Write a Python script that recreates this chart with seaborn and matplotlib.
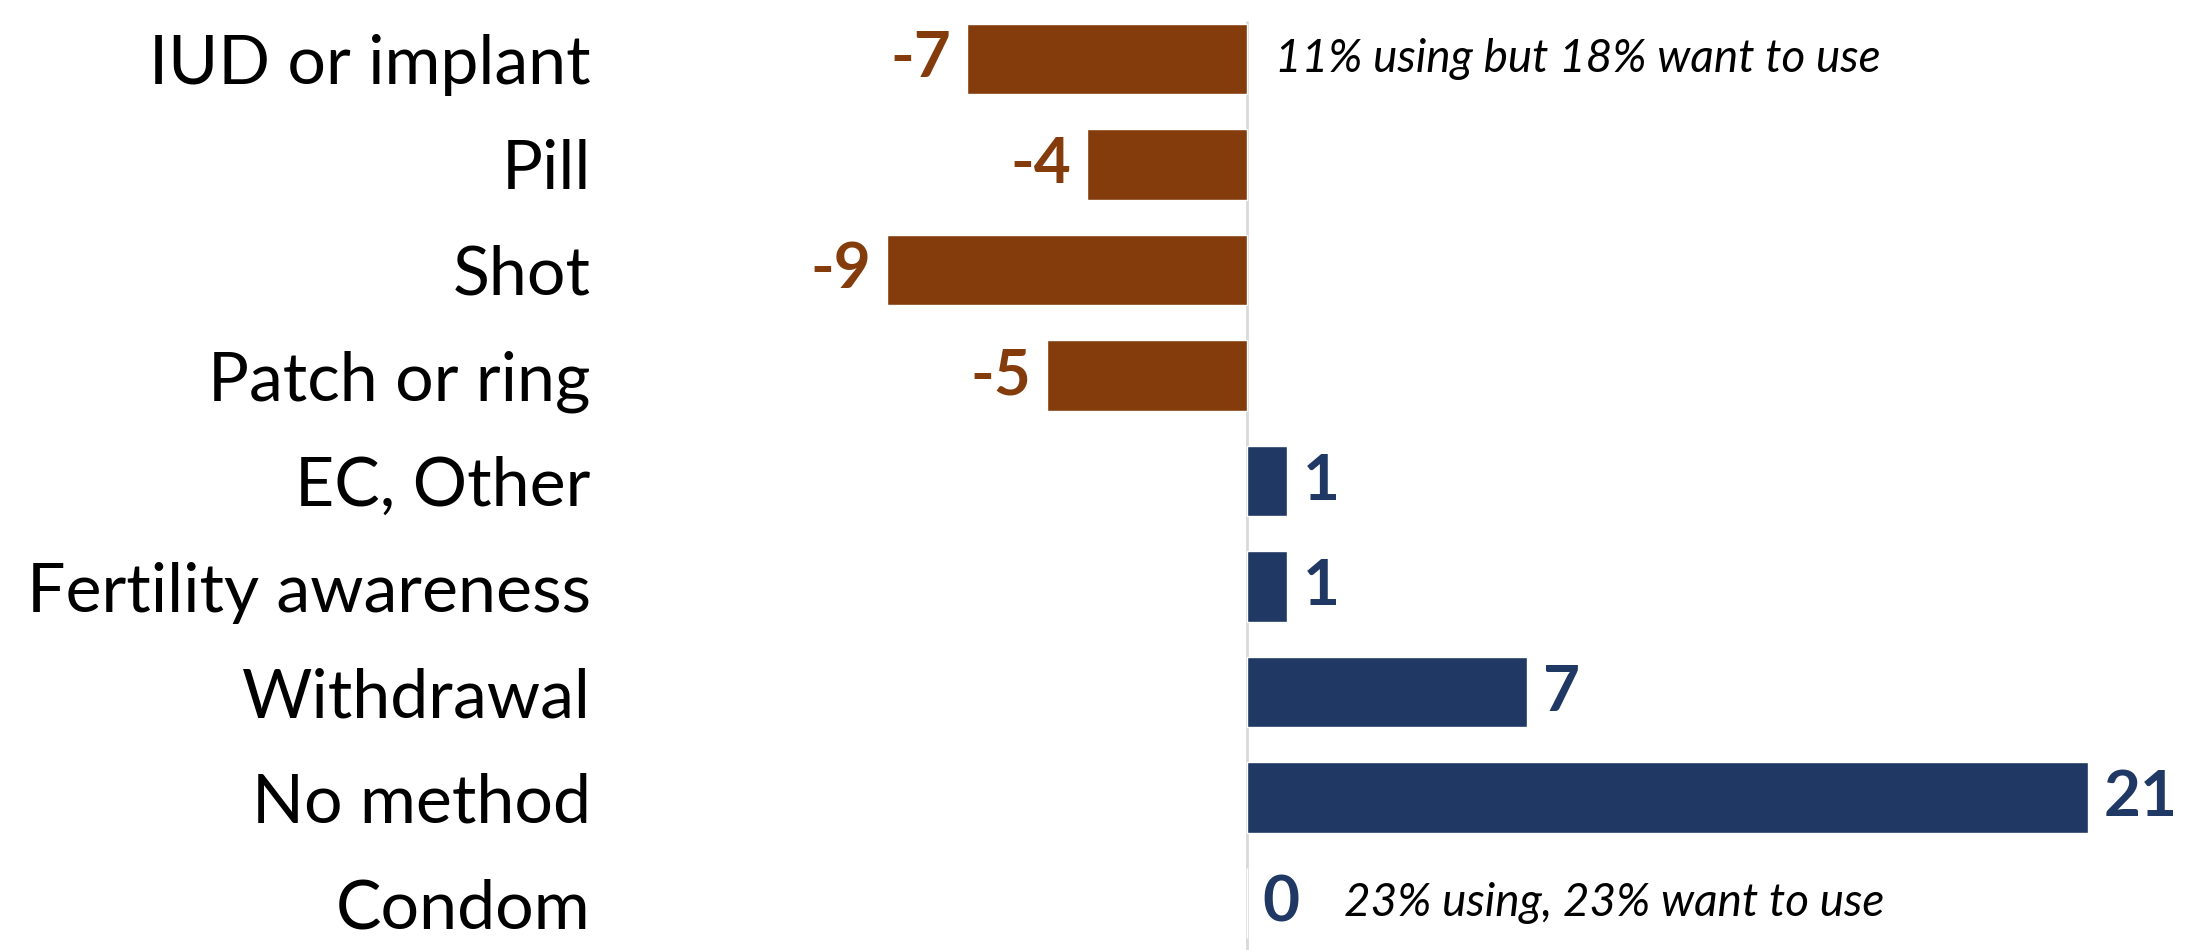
import matplotlib
matplotlib.use("Agg")
import matplotlib.pyplot as plt
import seaborn as sns
import pandas as pd

# Difference between share wanting to use a method and share using it (points)
methods = ["IUD or implant", "Pill", "Shot", "Patch or ring", "EC, Other",
           "Fertility awareness", "Withdrawal", "No method", "Condom"]
gap = [-7, -4, -9, -5, 1, 1, 7, 21, 0]
notes = {"IUD or implant": "11% using but 18% want to use",
         "Condom": "23% using, 23% want to use"}

BROWN = "#843C0C"
NAVY = "#203864"

df = pd.DataFrame({"method": methods, "gap": gap})
df["side"] = ["under" if v < 0 else "over" for v in gap]

sns.set_theme(style="white")
plt.rcParams["font.family"] = ["Lato", "DejaVu Sans"]

fig = plt.figure(figsize=(22.02, 9.5), dpi=100)
ax = fig.add_axes([620 / 2202, 0, 1 - 620 / 2202, 1])

sns.barplot(data=df, x="gap", y="method", hue="side", order=methods,
            palette={"under": BROWN, "over": NAVY}, dodge=False,
            width=0.67, legend=False, ax=ax, saturation=1)

ax.set_xlim(-15.66, 23.85)
ax.set_ylim(8.445, -0.559)
ax.vlines(0, -0.36, 8.445, color="#D9D9D9", lw=2, zorder=0)

for i, (m, v) in enumerate(zip(methods, gap)):
    col = BROWN if v < 0 else NAVY
    if v < 0:
        ax.annotate(f"{v}", (v, i), xytext=(-11, 0), textcoords="offset points",
                    ha="right", va="center", fontsize=46, fontweight="bold", color=col)
    else:
        ax.annotate(f"{v}", (v, i), xytext=(11, 0), textcoords="offset points",
                    ha="left", va="center", fontsize=46, fontweight="bold", color=col)

for m, txt in notes.items():
    i = methods.index(m)
    dx = 20 if m == "IUD or implant" else 70
    ax.annotate(txt, (0, i), xytext=(dx, 0), textcoords="offset points",
                ha="left", va="center", fontsize=33, fontstyle="italic", color="black")

ax.set_xlabel("")
ax.set_ylabel("")
ax.set_xticks([])
ax.tick_params(axis="y", length=0, pad=21, labelsize=49, labelcolor="black")
for s in ax.spines.values():
    s.set_visible(False)

fig.savefig("out.png", dpi=100)
